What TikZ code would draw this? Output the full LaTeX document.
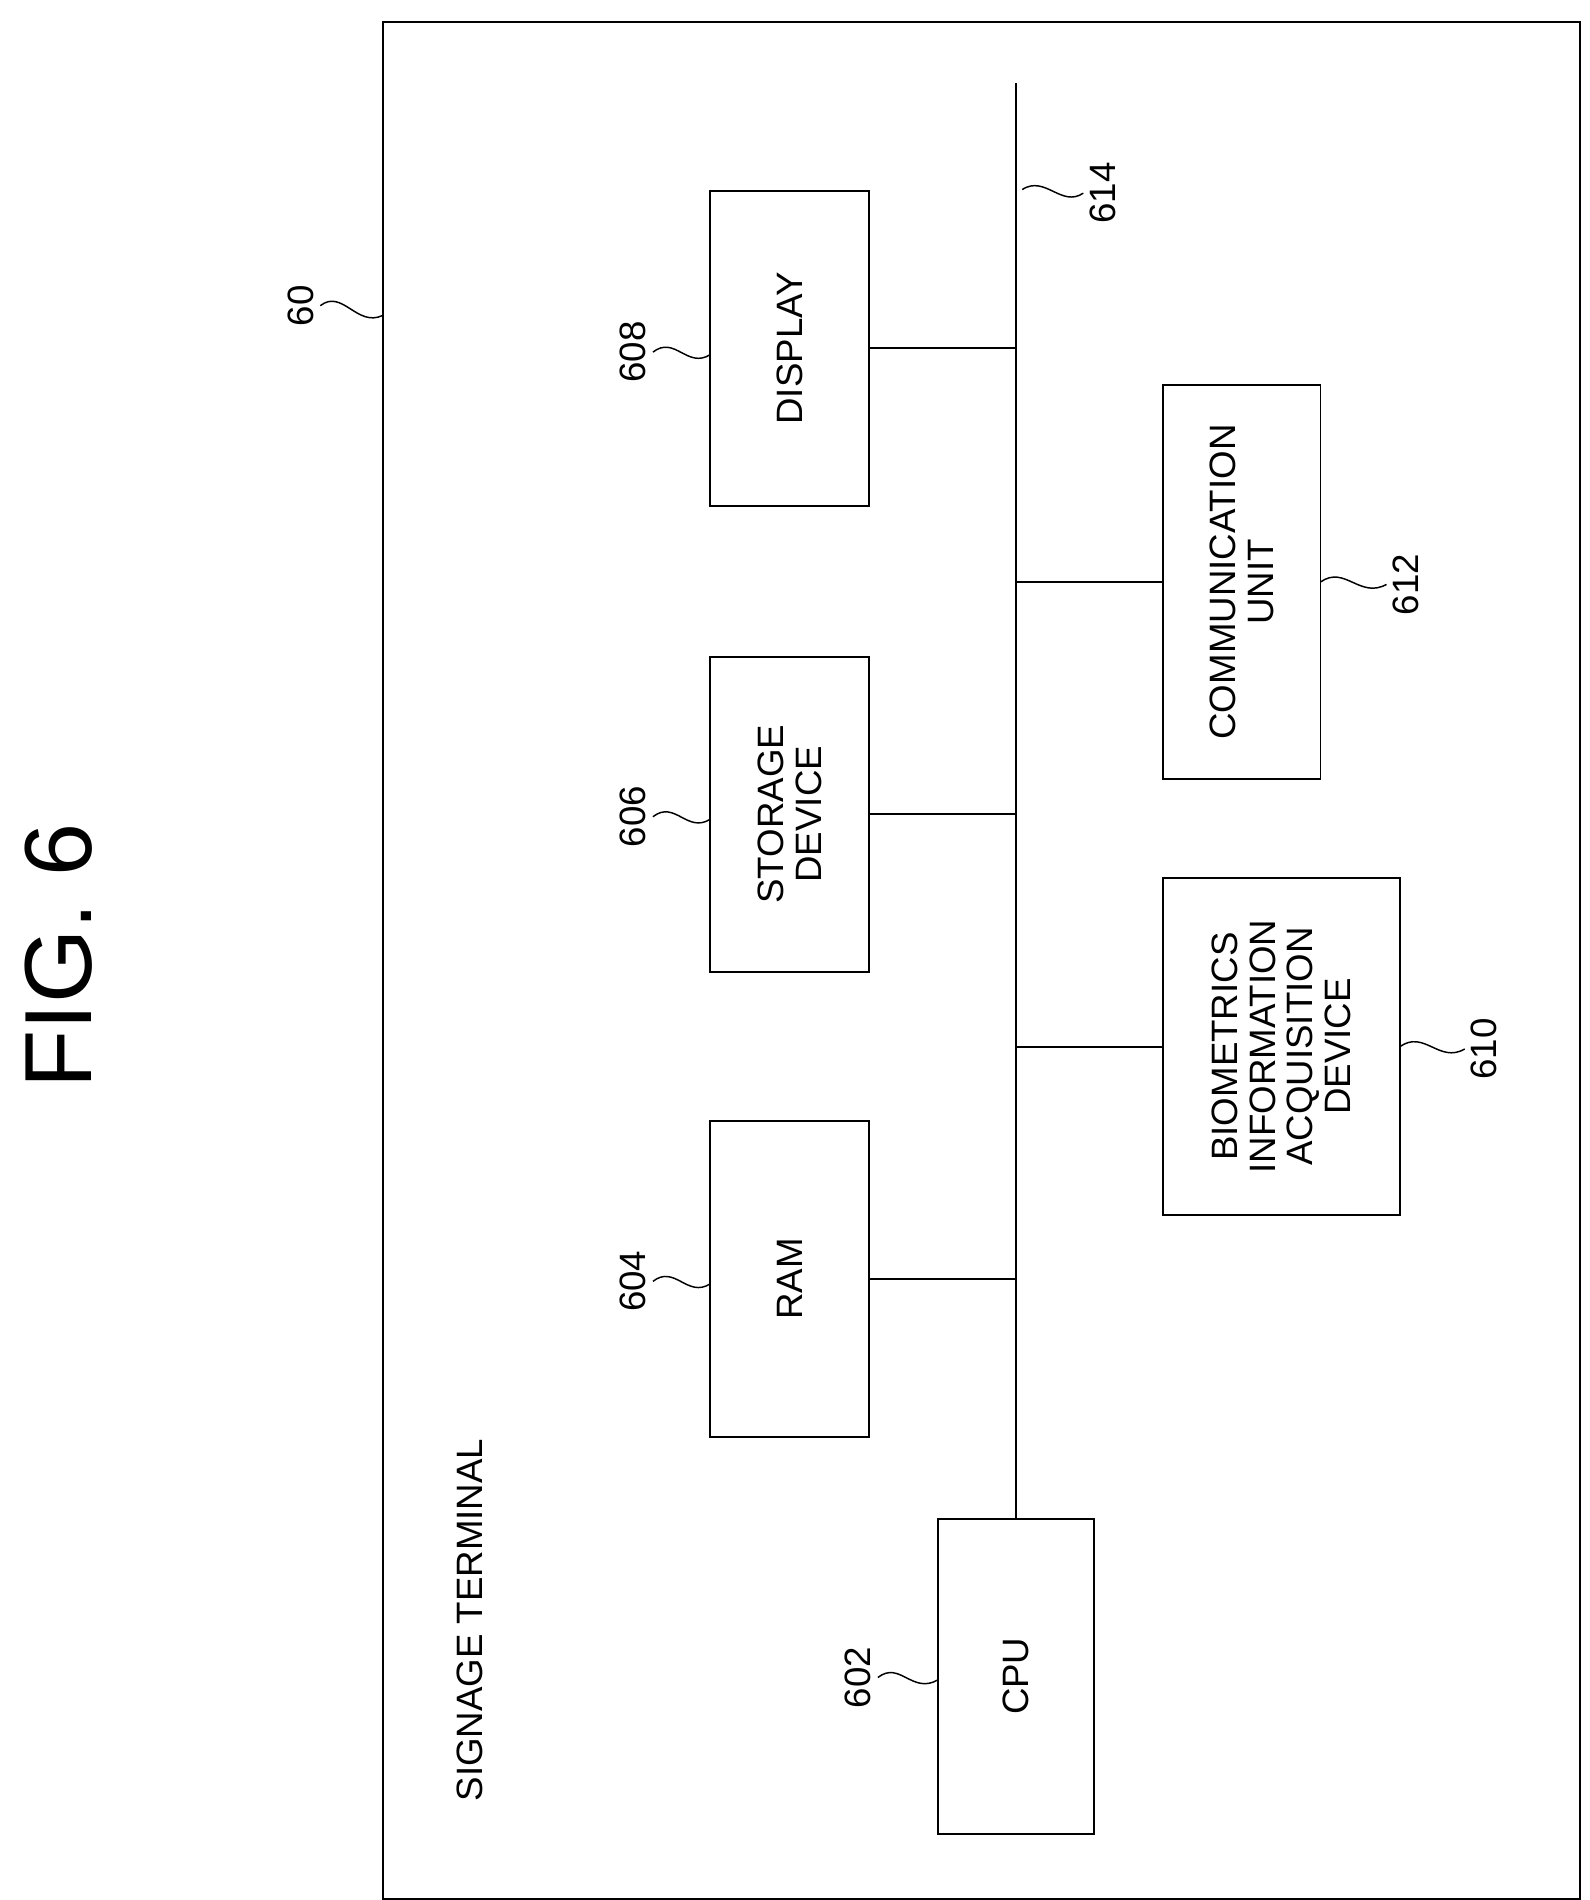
\documentclass[tikz,border=0pt]{standalone}
\usepackage{fontspec}
\setmainfont{Liberation Sans}
\begin{document}
\begin{tikzpicture}[x=1pt,y=-1pt,line width=1.6pt,
  box/.style={draw,line width=1.6pt,inner sep=0pt},
  txt/.style={rotate=90,align=center,font=\fontsize{30}{31}\selectfont,inner sep=0pt},
  lab/.style={rotate=90,font=\fontsize{30}{31}\selectfont,inner sep=0pt},
  sq/.style={line width=1.2pt}]
\useasboundingbox (0,0) rectangle (1300,1554);
\node[lab,font=\fontsize{78}{80}\selectfont] (fig) at (48,782) {FIG. 6};
\node[box,minimum width=979,minimum height=1535] (outer) at (802.5,785.5) {};
\node[lab] (l60) at (246,250) {60};
\draw[sq] (262,250) .. controls (280,236) and (292,268) .. (313,258);
\node[lab,anchor=east] (st) at (384,1590) {};
\node[txt] (sig) at (384,1325) {SIGNAGE TERMINAL};
% boxes
\node[box,minimum width=130,minimum height=258] (disp) at (646,285) {};
\node[txt] at (disp) {DISPLAY};
\node[box,minimum width=130,minimum height=258] (stor) at (646,666) {};
\node[txt] at (stor) {STORAGE\\DEVICE};
\node[box,minimum width=130,minimum height=258] (ram) at (646,1046) {};
\node[txt] at (ram) {RAM};
\node[box,minimum width=129,minimum height=322] (comm) at (1015.5,476) {};
\node[txt] at (comm) {COMMUNICATION\\UNIT};
\node[box,minimum width=194,minimum height=276] (bio) at (1048,856) {};
\node[txt] at (bio) {BIOMETRICS\\INFORMATION\\ACQUISITION\\DEVICE};
\node[box,minimum width=128,minimum height=258] (cpu) at (831,1371) {};
\node[txt] at (cpu) {CPU};
% bus
\coordinate (bustop) at (831,68);
\draw (bustop) -- (cpu.north);
\draw (disp.east) -- (disp.east -| bustop);
\draw (stor.east) -- (stor.east -| bustop);
\draw (ram.east) -- (ram.east -| bustop);
\draw (comm.west) -- (comm.west -| bustop);
\draw (bio.west) -- (bio.west -| bustop);
% labels
\node[lab] (l614) at (902,158) {614};
\draw[sq] (836,155) .. controls (855,143) and (868,170) .. (886,158);
\node[lab] (l608) at (518,288) {608};
\draw[sq] (534,288) .. controls (552,274) and (562,302) .. (581,290);
\node[lab] (l606) at (518,668) {606};
\draw[sq] (534,668) .. controls (552,654) and (562,682) .. (581,670);
\node[lab] (l604) at (518,1048) {604};
\draw[sq] (534,1048) .. controls (552,1034) and (562,1062) .. (581,1050);
\node[lab] (l602) at (702,1372) {602};
\draw[sq] (718,1372) .. controls (736,1358) and (746,1386) .. (767,1374);
\node[lab] (l612) at (1150,478) {612};
\draw[sq] (1080,476) .. controls (1100,462) and (1112,490) .. (1134,478);
\node[lab] (l610) at (1214,858) {610};
\draw[sq] (1145,856) .. controls (1165,842) and (1177,870) .. (1198,858);
\end{tikzpicture}
\end{document}
